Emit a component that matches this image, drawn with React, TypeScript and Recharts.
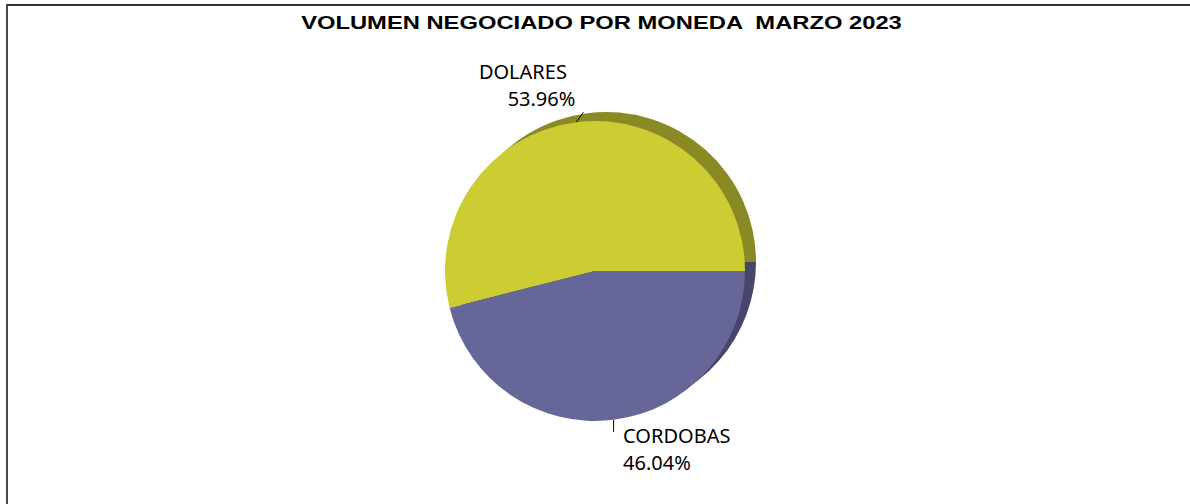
import React from "react";
import { PieChart, Pie, Cell } from "recharts";

const categories = ["DOLARES", "CORDOBAS"];
const shares = [53.96, 46.04];
const shareLabels = ["53.96%", "46.04%"];
const mainColors = ["#CCCC33", "#666699"];
const shadowColors = ["#8A8A24", "#46456C"];
const title = "VOLUMEN NEGOCIADO POR MONEDA  MARZO 2023";

const data = categories.map((name, i) => ({ name, value: shares[i], label: shareLabels[i] }));

const RAD = Math.PI / 180;

const renderLabel = (props: any) => {
  const { cx, cy, midAngle, outerRadius, index } = props;
  const px = cx + outerRadius * Math.cos(-midAngle * RAD);
  const py = cy + outerRadius * Math.sin(-midAngle * RAD);
  const font = { fontFamily: "'Noto Sans', sans-serif", fontSize: 20, fill: "#000" };
  if (index === 0) {
    return (
      <g>
        <line x1={px} y1={py} x2={px + 7} y2={py - 10} stroke="#000" strokeWidth={1} />
        <text x={px - 97.5} y={py - 43} textAnchor="start" {...font}>{categories[0]}</text>
        <text x={px - 1} y={py - 16} textAnchor="end" {...font}>{shareLabels[0]}</text>
      </g>
    );
  }
  return (
    <g>
      <line x1={px} y1={py} x2={px} y2={py + 12} stroke="#000" strokeWidth={1} />
      <text x={px + 9.5} y={py + 23} textAnchor="start" {...font}>{categories[1]}</text>
      <text x={px + 9.5} y={py + 50} textAnchor="start" {...font}>{shareLabels[1]}</text>
    </g>
  );
};

export default function App() {
  return (
    <div style={{ position: "fixed", left: 0, top: 0, width: 1190, height: 504, background: "#fff", overflow: "hidden" }}>
      <div style={{ position: "absolute", left: 6, top: 4, width: 1300, height: 700, borderLeft: "2px solid #4a4a4a", borderTop: "2px solid #333" }} />
      <svg width={1190} height={504} style={{ position: "absolute", left: 0, top: 0 }}>
        <text
          x={0}
          y={0}
          textAnchor="middle"
          transform="translate(601.5,28.5) scale(1.25,1)"
          style={{ fontFamily: "'Liberation Sans', Arial, sans-serif", fontWeight: 700, fontSize: 19, whiteSpace: "pre" }}
          fill="#000"
        >
          {title}
        </text>
      </svg>
      <div style={{ position: "absolute", left: 0, top: 0 }}>
        <PieChart width={1190} height={504} margin={{ top: 0, right: 0, bottom: 0, left: 0 }}>
          <Pie
            data={data}
            dataKey="value"
            nameKey="name"
            cx={606}
            cy={262}
            outerRadius={150}
            startAngle={0}
            endAngle={360}
            stroke="none"
            label={false}
            labelLine={false}
            isAnimationActive={false}
          >
            {data.map((d, i) => (
              <Cell key={d.name} fill={shadowColors[i]} />
            ))}
          </Pie>
          <Pie
            data={data}
            dataKey="value"
            nameKey="name"
            cx={595}
            cy={271}
            outerRadius={150}
            startAngle={0}
            endAngle={360}
            stroke="none"
            label={renderLabel}
            labelLine={false}
            isAnimationActive={false}
          >
            {data.map((d, i) => (
              <Cell key={d.name} fill={mainColors[i]} />
            ))}
          </Pie>
        </PieChart>
      </div>
    </div>
  );
}
